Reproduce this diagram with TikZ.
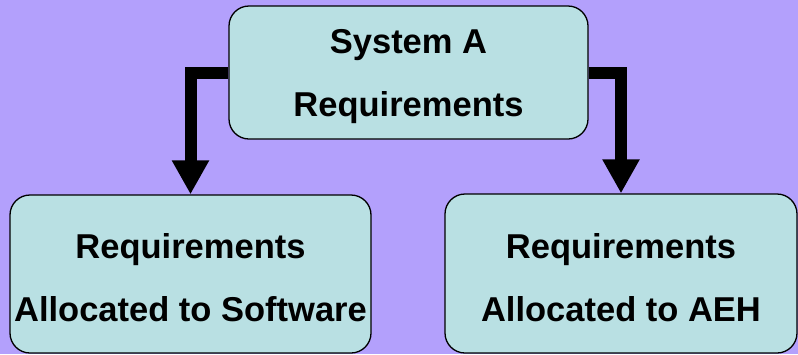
\documentclass[tikz,border=0pt]{standalone}
\usepackage{fontspec}
\setmainfont{Liberation Sans}
\usepackage{xcolor}
\usetikzlibrary{arrows.meta}
\definecolor{bgpurple}{RGB}{179,160,252}
\definecolor{boxcyan}{RGB}{185,224,227}
\newcommand{\topstrut}{\rule{0pt}{33pt}}

\begin{document}
\begin{tikzpicture}[x=1pt,y=-1pt,
        reqbox/.style={draw=black, line width=1.3pt, fill=boxcyan, rounded corners=20pt,
            align=center, inner sep=0pt,
            font=\bfseries\fontsize{34.5}{63}\selectfont},
        flow/.style={line width=12pt, -{Triangle[width=35pt,length=34pt]}}]
            \fill[bgpurple] (0,0) rectangle (798,354);
            \useasboundingbox (0,0) rectangle (798,354);

            \node[reqbox, minimum width=359pt, minimum height=133pt] (sysA) at (408.5,72.5) {\topstrut System A\\Requirements};
            \node[reqbox, minimum width=361pt, minimum height=158pt] (sw) at (190.5,274) {\topstrut Requirements\\Allocated to Software};
            \node[reqbox, minimum width=352pt, minimum height=159pt] (aeh) at (621,273.5) {\topstrut Requirements\\Allocated to AEH};

            \draw[flow] (sysA.west) -| (sw.north);
            \draw[flow] (sysA.east) -| (aeh.north);
        \end{tikzpicture}
\end{document}
